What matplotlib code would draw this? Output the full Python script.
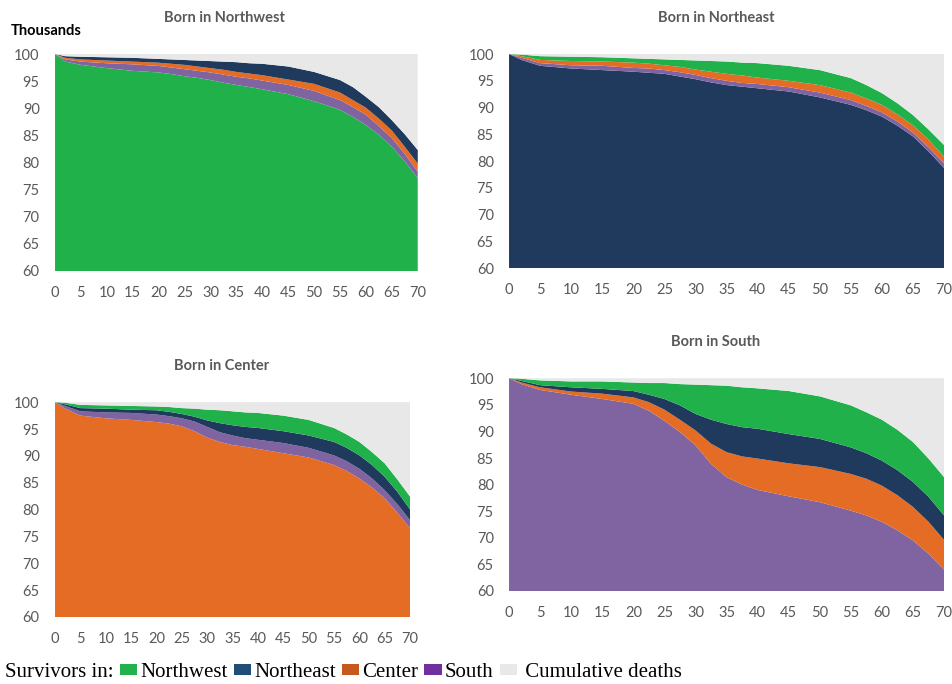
import numpy as np
import matplotlib.pyplot as plt
from matplotlib.patches import Patch

# ages (years) and survivors (thousands) by region of residence
ages = [0, 2, 5, 10, 15, 20, 22.5, 25, 27.5, 30, 32.5, 35, 37.5, 40, 45,
        50, 55, 57.5, 60, 62.5, 65, 67.5, 70]
regions = ["Northwest", "Northeast", "Center", "South"]

# Born in Northwest
nw_northwest = [100, 98.6, 98.0, 97.4, 96.9, 96.6, 96.3, 95.9, 95.6, 95.2, 94.7, 94.3, 93.9, 93.5, 92.6,
                91.3, 89.7, 88.4, 86.9, 85.1, 82.9, 80.2, 77.1]
nw_south = [0, 0.4, 0.6, 0.9, 1.2, 1.2, 1.2, 1.3, 1.3, 1.4, 1.5, 1.5, 1.6, 1.6, 1.7,
            1.9, 1.8, 1.8, 1.9, 1.6, 1.6, 1.4, 1.2]
nw_center = [0, 0.3, 0.4, 0.5, 0.5, 0.6, 0.7, 0.8, 0.8, 0.8, 0.9, 0.9, 0.9, 1.0, 1.0,
             1.3, 1.4, 1.3, 1.3, 1.4, 1.4, 1.3, 1.5]
nw_northeast = [0, 0.3, 0.5, 0.6, 0.7, 0.7, 0.8, 0.9, 1.1, 1.3, 1.5, 1.8, 1.9, 2.1, 2.4,
                2.2, 2.3, 2.4, 2.0, 2.1, 1.9, 2.3, 2.5]

# Born in Northeast
ne_northeast = [100, 98.9, 97.8, 97.3, 97.0, 96.7, 96.5, 96.3, 95.8, 95.3, 94.7, 94.2, 93.9, 93.6, 93.0,
                91.9, 90.5, 89.5, 88.3, 86.6, 84.6, 81.8, 78.7]
ne_south = [0, 0.4, 0.5, 0.6, 0.8, 0.7, 0.8, 0.7, 0.8, 0.8, 0.8, 0.8, 0.7, 0.8, 0.8,
            0.9, 0.9, 0.8, 0.8, 0.8, 0.7, 0.8, 0.9]
ne_center = [0, 0.3, 0.6, 0.8, 0.8, 1.0, 0.9, 0.9, 1.0, 1.0, 1.2, 1.3, 1.4, 1.2, 1.2,
             1.4, 1.4, 1.4, 1.4, 1.3, 1.4, 1.4, 1.2]
ne_northwest = [0, 0.3, 0.7, 0.8, 0.8, 0.8, 0.9, 1.1, 1.3, 1.7, 2.0, 2.3, 2.4, 2.7, 2.8,
                2.8, 2.7, 2.5, 2.2, 2.1, 1.9, 1.9, 2.2]

# Born in Center
ce_center = [100, 98.8, 97.5, 97.0, 96.7, 96.3, 96.0, 95.5, 94.6, 93.4, 92.6, 92.0, 91.7, 91.3, 90.5,
             89.7, 88.3, 87.2, 85.8, 84.1, 82.1, 79.4, 76.5]
ce_south = [0, 0.5, 0.8, 1.1, 1.3, 1.4, 1.4, 1.5, 1.8, 2.0, 1.8, 1.8, 1.6, 1.7, 1.9,
            1.8, 1.8, 1.8, 1.8, 1.7, 1.5, 1.6, 1.5]
ce_northeast = [0, 0.3, 0.6, 0.7, 0.6, 0.8, 0.8, 0.8, 0.9, 1.2, 1.7, 1.9, 2.1, 2.2, 2.2,
                2.3, 2.5, 2.5, 2.5, 2.5, 2.5, 2.3, 2.0]
ce_northwest = [0, 0.3, 0.6, 0.6, 0.7, 0.7, 0.9, 1.1, 1.5, 2.0, 2.4, 2.6, 2.7, 2.8, 2.9,
                2.9, 2.6, 2.5, 2.5, 2.4, 2.5, 2.3, 2.4]

# Born in South
so_south = [100, 98.9, 97.8, 96.9, 96.1, 95.2, 93.9, 92.0, 89.9, 87.4, 83.9, 81.4, 80.0, 79.0, 77.8,
            76.7, 75.1, 74.2, 73.0, 71.4, 69.5, 67.0, 64.0]
so_center = [0, 0.3, 0.5, 0.6, 1.0, 1.2, 1.6, 2.1, 2.3, 2.8, 3.8, 4.7, 5.3, 5.9, 6.2,
             6.6, 6.9, 6.9, 6.8, 6.6, 6.3, 6.0, 5.6]
so_northeast = [0, 0.3, 0.4, 0.8, 0.9, 1.2, 1.4, 2.0, 2.7, 3.1, 4.5, 5.3, 5.5, 5.6, 5.5,
                5.3, 5.0, 4.8, 4.7, 4.7, 4.7, 4.7, 4.6]
so_northwest = [0, 0.4, 0.9, 1.1, 1.4, 1.6, 2.2, 3.0, 4.0, 5.5, 6.5, 7.2, 7.5, 7.6, 8.1,
                8.0, 7.9, 7.7, 7.7, 7.6, 7.5, 7.2, 7.2]

colors = {"Northwest": "#21b14b", "Northeast": "#1f3a5d",
          "Center": "#e46c25", "South": "#8064a2", "deaths": "#e8e8e8"}
legend_colors = ["#22b14c", "#1f4e79", "#c55a1e", "#7030a0", "#e8e8e8"]

panels = [
    ("Born in Northwest", [0.0578, 0.604, 0.381, 0.317],
     [("Northwest", nw_northwest), ("South", nw_south), ("Center", nw_center), ("Northeast", nw_northeast)],
     (0.236, 0.974)),
    ("Born in Northeast", [0.5347, 0.608, 0.457, 0.313],
     [("Northeast", ne_northeast), ("South", ne_south), ("Center", ne_center), ("Northwest", ne_northwest)],
     (0.752, 0.974)),
    ("Born in Center", [0.0578, 0.098, 0.373, 0.314],
     [("Center", ce_center), ("South", ce_south), ("Northeast", ce_northeast), ("Northwest", ce_northwest)],
     (0.233, 0.465)),
    ("Born in South", [0.5347, 0.136, 0.457, 0.311],
     [("South", so_south), ("Center", so_center), ("Northeast", so_northeast), ("Northwest", so_northwest)],
     (0.752, 0.5)),
]

plt.rcParams['font.family'] = ['Lato', 'DejaVu Sans']
fig = plt.figure(figsize=(9.52, 6.84), dpi=100)

for title, rect, layers, tpos in panels:
    ax = fig.add_axes(rect)
    vals = [np.array(v, dtype=float) for _, v in layers]
    deaths = 100 - np.sum(vals, axis=0)
    cols = [colors[n] for n, _ in layers] + [colors["deaths"]]
    ax.stackplot(ages, *vals, deaths, colors=cols, linewidth=0)
    ax.set_xlim(0, 70)
    ax.set_ylim(60, 100)
    ax.set_xticks(range(0, 71, 5))
    ax.set_yticks(range(60, 101, 5))
    for s in ax.spines.values():
        s.set_visible(False)
    ax.tick_params(length=0, labelsize=10.5, labelcolor="#595959")
    ax.tick_params(axis='y', pad=11)
    ax.tick_params(axis='x', pad=11)
    fig.text(tpos[0], tpos[1], title, ha='center', va='center',
             fontsize=10.5, fontweight='bold', color='#595959')

fig.text(0.011, 0.954, "Thousands", ha='left', va='center',
         fontsize=10.5, fontweight='bold', color='black')

# legend: first entry is the "Survivors in:" lead-in with an empty handle
serif = ['Liberation Serif', 'DejaVu Serif']
handles = [Patch(facecolor='none', edgecolor='none')]
handles += [Patch(facecolor=c, edgecolor='none') for c in legend_colors]
labels = ["Survivors in:"] + regions + [" Cumulative deaths"]
fig.legend(handles, labels, ncol=6, loc='lower left', bbox_to_anchor=(-0.0158, 0.003),
           frameon=False, prop={'family': serif, 'size': 15},
           handlelength=0.82, handleheight=0.5, handletextpad=0.15,
           columnspacing=0.3, borderpad=0, borderaxespad=0)

plt.savefig('out.png', dpi=100)
